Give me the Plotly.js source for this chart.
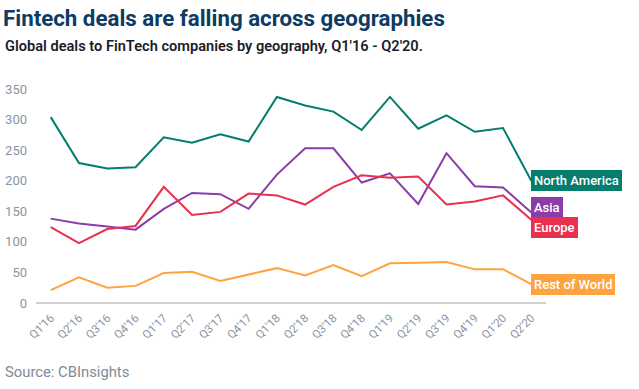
<!DOCTYPE html>
<html>
<head>
<meta charset="utf-8">
<script src="https://cdn.plot.ly/plotly-3.0.1.min.js"></script>
<style>html,body{margin:0;padding:0;background:#fff}#chart{width:639px;height:389px}</style>
</head>
<body>
<div id="chart"></div>
<script>
const quarters = ["Q1'16","Q2'16","Q3'16","Q4'16","Q1'17","Q2'17","Q3'17","Q4'17","Q1'18","Q2'18","Q3'18","Q4'18","Q1'19","Q2'19","Q3'19","Q4'19","Q1'20","Q2'20"];
const northAmerica = [304,229,220,222,271,262,276,264,337,323,313,283,337,285,307,280,286,200];
const asia         = [138,130,125,120,154,180,178,154,210,253,253,197,212,162,245,191,189,148];
const europe       = [124, 98,121,126,190,144,149,179,176,161,190,209,205,207,161,166,176,136];
const restOfWorld  = [ 21, 42, 25, 28, 49, 51, 36, 47, 57, 45, 62, 44, 65, 66, 67, 55, 55, 31];
const seriesNames  = ["North America","Asia","Europe","Rest of World"];
const seriesColors = ["#047d6d","#8b3ca8","#e8304f","#ffa33f"];
const labelShift   = [0, 5, -8, 0];

const allSeries = [northAmerica, asia, europe, restOfWorld];
const traces = allSeries.map((vals, k) => ({
  type: 'scatter', mode: 'lines', x: quarters, y: vals, name: seriesNames[k],
  line: {color: seriesColors[k], width: 2}, hoverinfo: 'x+y', cliponaxis: false
}));

const annotations = allSeries.map((vals, k) => ({
  x: quarters[quarters.length-1], y: vals[vals.length-1], xref: 'x', yref: 'y',
  text: seriesNames[k], showarrow: false, xanchor: 'left', yanchor: 'middle',
  yshift: labelShift[k], xshift: 0,
  bgcolor: seriesColors[k], bordercolor: seriesColors[k], borderpad: 2, borderwidth: 1,
  font: {family: 'Roboto, sans-serif', size: 13, color: '#ffffff', weight: 500}
}));

annotations.push({
  xref: 'paper', yref: 'paper', x: -33/510, y: (302.7-46)/213.4,
  xanchor: 'left', yanchor: 'middle', showarrow: false,
  text: "Global deals to FinTech companies by geography, Q1'16 - Q2'20.",
  font: {family: 'Roboto, sans-serif', size: 14.6, color: '#1c1c28', weight: 600}
});
annotations.push({
  xref: 'paper', yref: 'paper', x: -33/510, y: (302.7-372)/213.4,
  xanchor: 'left', yanchor: 'middle', showarrow: false,
  text: "Source: CBInsights",
  font: {family: 'Roboto, sans-serif', size: 14.8, color: '#7f8a96'}
});

const layout = {
  width: 639, height: 389,
  margin: {l: 36, r: 93, t: 89.3, b: 86.3},
  paper_bgcolor: '#ffffff', plot_bgcolor: '#ffffff',
  showlegend: false,
  title: {
    text: 'Fintech deals are falling across geographies',
    x: 3/639, xanchor: 'left', xref: 'container',
    y: 1 - 18/389, yanchor: 'middle', yref: 'container',
    font: {family: 'Roboto, sans-serif', size: 22.3, color: '#0c3b63', weight: 700}
  },
  xaxis: {
    type: 'category', range: [-0.52, 17.52], showgrid: false, zeroline: false,
    showline: false, tickangle: -45, ticks: '', ticklabelstandoff: 5,
    tickfont: {family: 'Roboto, sans-serif', size: 11.5, color: '#8a94a3'},
    fixedrange: true
  },
  yaxis: {
    range: [0, 350], tickvals: [0,50,100,150,200,250,300,350],
    showgrid: false, zeroline: true, zerolinecolor: '#d0d0d0', zerolinewidth: 1.5,
    showline: false, ticks: '', ticklabelstandoff: 8,
    tickfont: {family: 'Roboto, sans-serif', size: 13, color: '#8a94a3'},
    fixedrange: true
  },
  annotations: annotations
};

Plotly.newPlot('chart', traces, layout, {displayModeBar: false, staticPlot: true});
</script>
</body>
</html>
